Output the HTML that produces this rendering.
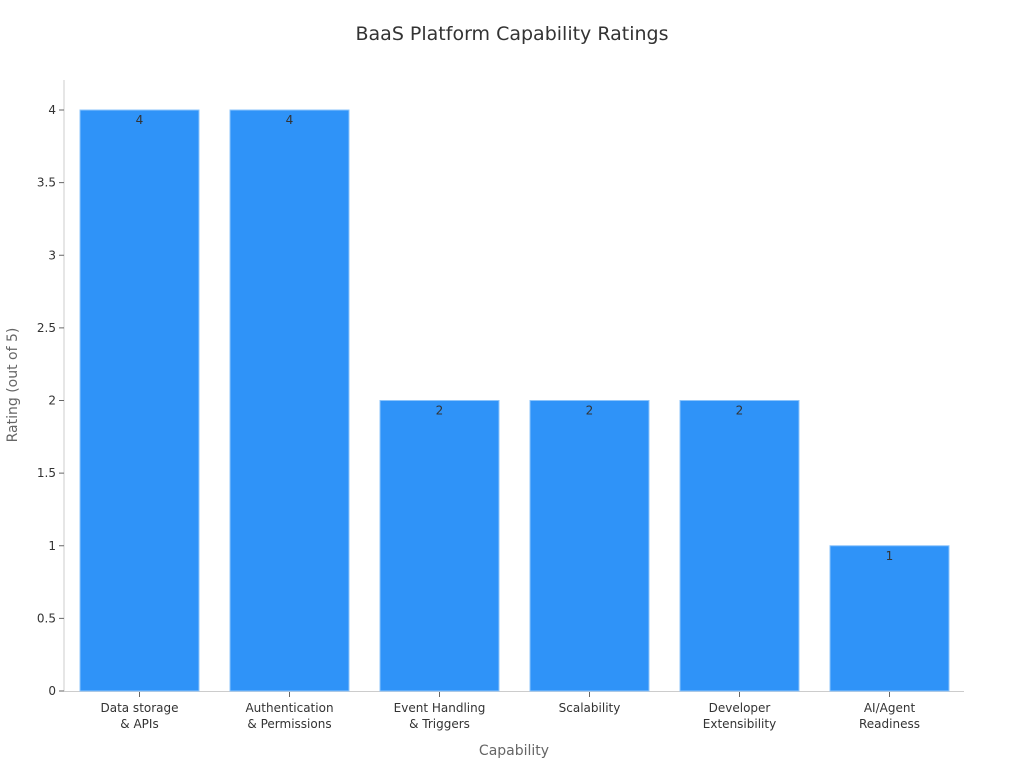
<!DOCTYPE html>
<html><head><meta charset="utf-8"><style>
body{margin:0;background:#fff;font-family:"Liberation Sans","DejaVu Sans",sans-serif}
svg text{font-family:"DejaVu Sans","Liberation Sans",sans-serif}
</style></head><body>
<svg id="chart" width="1024" height="768" xmlns="http://www.w3.org/2000/svg">
<text x="512" y="40" text-anchor="middle" font-size="19" fill="#333">BaaS Platform Capability Ratings</text>
<text transform="translate(17,385) rotate(-90)" text-anchor="middle" font-size="14" fill="#666">Rating (out of 5)</text>
<text x="514" y="755" text-anchor="middle" font-size="14" fill="#666">Capability</text>
<g id="plot"></g>
</svg>
<script>
const categories = [["Data storage","& APIs"],["Authentication","& Permissions"],["Event Handling","& Triggers"],["Scalability"],["Developer","Extensibility"],["AI/Agent","Readiness"]];
const ratings = [4,4,2,2,2,1];
const yTicks = [0,0.5,1,1.5,2,2.5,3,3.5,4];
const yTickLabels = ["0","0.5","1","1.5","2","2.5","3","3.5","4"];
const NS="http://www.w3.org/2000/svg";
const g=document.getElementById('plot');
const x0=64.5,x1=964.5,yBase=691,yTop=110,yMax=4;
const band=(x1-x0)/categories.length;
const y=v=>yBase-(v/yMax)*(yBase-yTop);
const xc=i=>x0+band*(i+0.5);
function mk(t,a){const e=document.createElementNS(NS,t);for(const k in a)e.setAttribute(k,a[k]);g.appendChild(e);return e;}
let ax=mk('line',{x1:64,y1:80,x2:64,y2:691.5,stroke:'#ccc'});


let bx=mk('line',{x1:64,y1:691.5,x2:964,y2:691.5,stroke:'#ccc'});


yTicks.forEach((v,i)=>{
  const tk=mk('line',{x1:59,x2:64,y1:y(v),y2:y(v),stroke:'#666'});
  
  
  const t=mk('text',{x:56,y:y(v)+4,'text-anchor':'end','font-size':12,fill:'#333'});
  t.textContent=yTickLabels[i];
  
  
});
ratings.forEach((v,i)=>{
  const w=119;
  const r=mk('rect',{x:xc(i)-w/2,y:y(v),width:w,height:yBase-y(v),fill:'#2f93f8',stroke:'#8cc4fb','stroke-width':1});
  
  
  const l=mk('text',{x:xc(i),y:y(v)+14,'text-anchor':'middle','font-size':12,fill:'#333'});
  l.textContent=v;
  
  
  const tk=mk('line',{x1:xc(i),x2:xc(i),y1:692,y2:697,stroke:'#666'});
  
  
  categories[i].forEach((line,j)=>{
    const t=mk('text',{x:xc(i),y:712+j*16,'text-anchor':'middle','font-size':12,fill:'#333'});
    t.textContent=line;
    
    
  });
});
</script>
</body></html>
